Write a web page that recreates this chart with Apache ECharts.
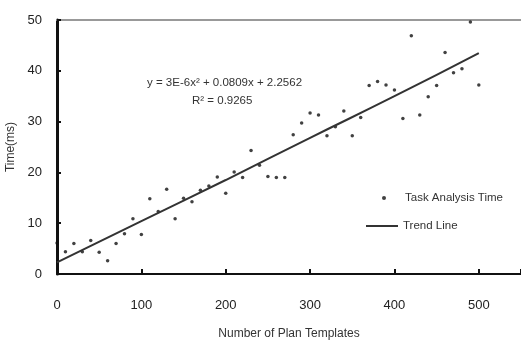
<!DOCTYPE html>
<html>
<head>
<meta charset="utf-8">
<script src="https://cdn.jsdelivr.net/npm/echarts@6/dist/echarts.min.js"></script>
<style>
  html, body { margin: 0; padding: 0; background: #fff; }
  #chart { width: 521px; height: 343px; }
</style>
</head>
<body>
<div id="chart"></div>
<script>
// number of plan templates (x) and measured task analysis time (ms)
const templates = [
  0, 10, 20, 30, 40, 50, 60, 70, 80, 90,
  100, 110, 120, 130, 140, 150, 160, 170, 180, 190,
  200, 210, 220, 230, 240, 250, 260, 270, 280, 290,
  300, 310, 320, 330, 340, 350, 360, 370, 380, 390,
  400, 410, 420, 430, 440, 450, 460, 470, 480, 490, 500
];
const analysisTime = [
  6.1, 4.4, 6.0, 4.4, 6.6, 4.3, 2.6, 6.0, 7.9, 10.9,
  7.8, 14.8, 12.3, 16.7, 10.9, 14.9, 14.2, 16.5, 17.3, 19.1,
  15.9, 20.1, 19.0, 24.3, 21.4, 19.2, 19.0, 19.0, 27.4, 29.7,
  31.7, 31.3, 27.2, 29.0, 32.1, 27.2, 30.8, 37.1, 37.9, 37.2,
  36.2, 30.6, 46.9, 31.3, 34.9, 37.1, 43.6, 39.6, 40.4, 49.6, 37.2
];
// trend line
const trendX = [0, 100, 200, 300, 400, 500];
const trendY = [2.3, 10.4, 18.5, 26.8, 35.0, 43.5];

const font = '"Liberation Sans", Arial, sans-serif';
const legendText = { fontFamily: font, fontSize: 11.5, color: '#333' };

const chart = echarts.init(document.getElementById('chart'));
chart.setOption({
  animation: false,
  textStyle: { fontFamily: font },
  grid: { left: 57, right: 0, top: 20, bottom: 69, outerBoundsMode: 'none' },
  legend: [
    {
      left: 382,
      top: 192,
      padding: 0,
      itemWidth: 32,
      itemHeight: 4,
      textStyle: legendText,
      data: [{ name: 'Task Analysis Time', icon: 'circle' }]
    },
    {
      left: 366,
      top: 220,
      padding: 0,
      itemWidth: 32,
      itemHeight: 2,
      textStyle: legendText,
      data: [{ name: 'Trend Line', icon: 'rect' }]
    }
  ],
  xAxis: [
    {
      type: 'value',
      min: 0,
      max: 550,
      interval: 100,
      name: 'Number of Plan Templates',
      nameLocation: 'middle',
      nameGap: 54,
      nameTextStyle: { fontFamily: font, fontSize: 12, color: '#333' },
      axisLine: { lineStyle: { color: '#111', width: 2 } },
      axisTick: { inside: true, length: 5, lineStyle: { color: '#111', width: 2 } },
      axisLabel: {
        margin: 25,
        fontSize: 13,
        color: '#222',
        formatter: (v) => (v % 100 === 0 ? String(v) : '')
      },
      splitLine: { show: false }
    },
    {
      type: 'value',
      position: 'top',
      min: 0,
      max: 550,
      axisLine: { lineStyle: { color: '#999', width: 2 } },
      axisTick: { show: false },
      axisLabel: { show: false },
      splitLine: { show: false }
    }
  ],
  yAxis: {
    type: 'value',
    min: 0,
    max: 50,
    interval: 10,
    name: 'Time(ms)',
    nameLocation: 'middle',
    nameGap: 33,
    nameTextStyle: { fontFamily: font, fontSize: 12, color: '#333' },
    axisLine: { show: true, lineStyle: { color: '#111', width: 3 } },
    axisTick: { show: true, inside: true, length: 4, lineStyle: { color: '#111', width: 2 } },
    axisLabel: { margin: 15, fontSize: 13, color: '#222' },
    splitLine: { show: false }
  },
  graphic: [
    {
      type: 'text',
      left: 147,
      top: 77,
      style: { text: 'y = 3E-6x² + 0.0809x + 2.2562', font: '11.5px ' + font, fill: '#333' }
    },
    {
      type: 'text',
      left: 192,
      top: 95,
      style: { text: 'R² = 0.9265', font: '11.5px ' + font, fill: '#333' }
    }
  ],
  series: [
    {
      name: 'Task Analysis Time',
      type: 'scatter',
      symbol: 'circle',
      symbolSize: 3.5,
      itemStyle: { color: '#111' },
      data: templates.map((x, i) => [x, analysisTime[i]])
    },
    {
      name: 'Trend Line',
      type: 'line',
      symbol: 'none',
      smooth: true,
      lineStyle: { color: '#333', width: 2 },
      itemStyle: { color: '#333' },
      data: trendX.map((x, i) => [x, trendY[i]])
    }
  ]
});
</script>
</body>
</html>
